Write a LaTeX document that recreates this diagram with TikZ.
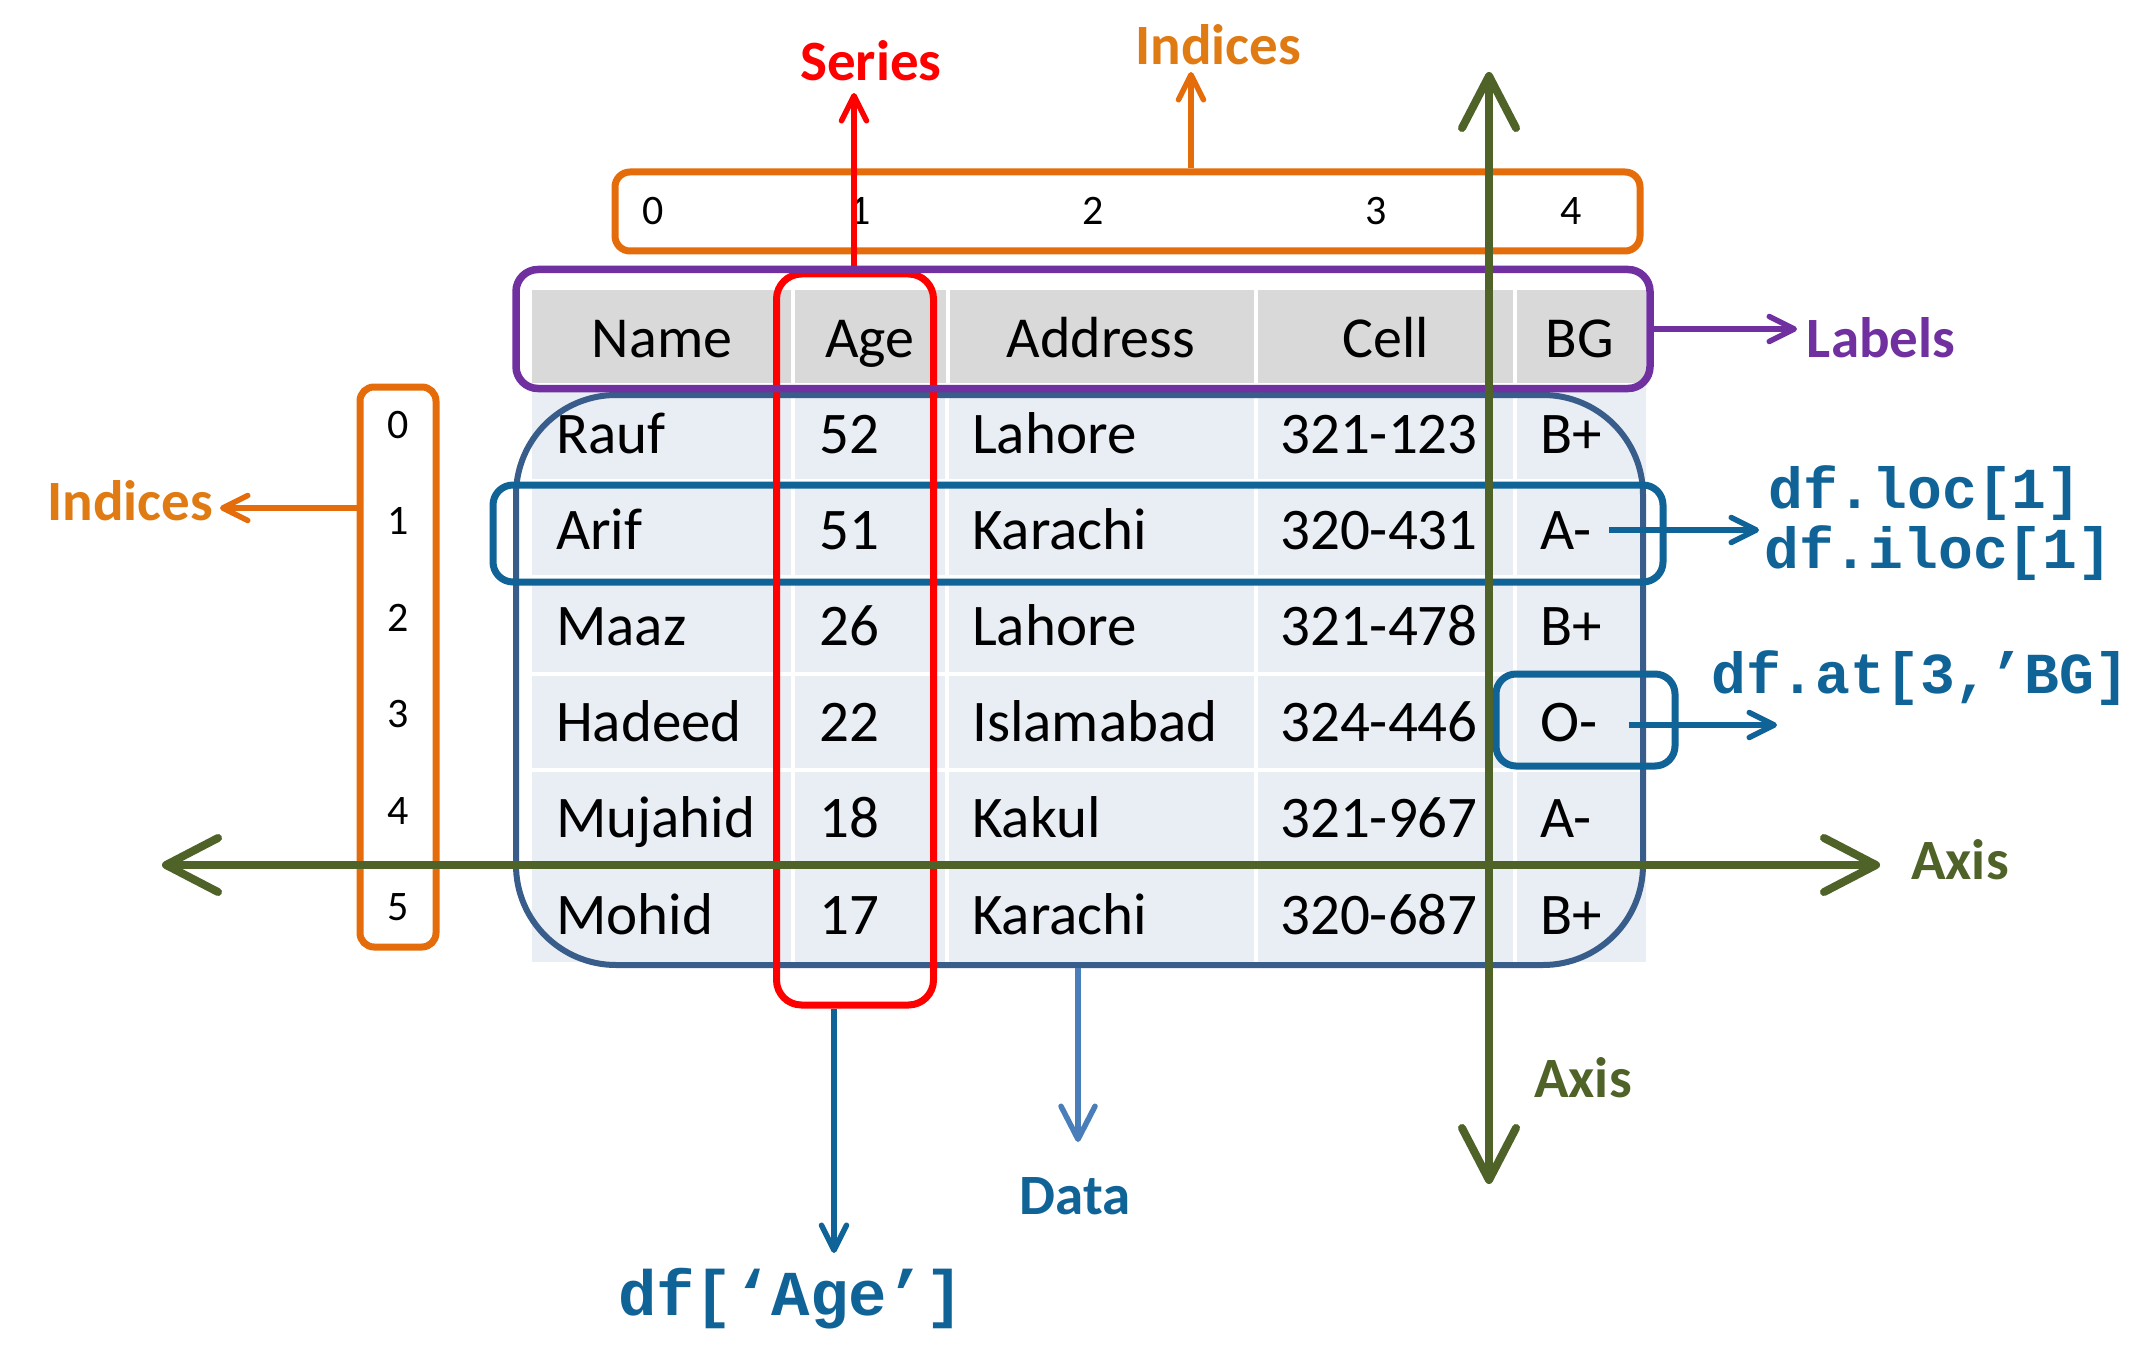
\documentclass[tikz,border=0pt]{standalone}
\usepackage{fontspec}
\setmainfont{Carlito}
\newfontfamily\codefont{Liberation Mono}
\usetikzlibrary{arrows.meta}
\definecolor{orangeb}{HTML}{E46C0A}
\definecolor{oranget}{HTML}{E07B14}
\definecolor{purp}{HTML}{7030A0}
\definecolor{axisg}{HTML}{4F6228}
\definecolor{databox}{HTML}{385D8A}
\definecolor{codeb}{HTML}{106396}
\definecolor{dataarr}{HTML}{4A7EBB}
\definecolor{hdrfill}{HTML}{D9D9D9}
\definecolor{rowfill}{HTML}{E9EDF4}
\tikzset{
  cell/.style={font=\fontsize{59}{70}\selectfont, inner sep=0pt, anchor=base west},
  hdr/.style={font=\fontsize{58}{70}\selectfont, inner sep=0pt, anchor=base},
  idx/.style={font=\fontsize{42}{50}\selectfont, inner sep=0pt},
  lbl/.style={font=\fontsize{57}{68}\selectfont\bfseries, inner sep=0pt},
  code/.style={font=\fontsize{58}{68}\selectfont\codefont\bfseries, inner sep=0pt, text=codeb},
  rbox/.style={draw, inner sep=0pt, fill=none},
  tarrow/.style={line width=5.5pt, -{Straight Barb[length=25pt,width=25pt,round]}},
  darrow/.style={line width=5.5pt, -{Straight Barb[length=33pt,width=34pt,round]}},
  axisarrow/.style={draw=axisg, line width=8pt, {Straight Barb[length=52pt,width=54pt,round]}-{Straight Barb[length=52pt,width=54pt,round]}},
}
\begin{document}
\begin{tikzpicture}[x=1pt,y=-1pt]
\useasboundingbox (0,0) rectangle (2152,1348);
\fill[white] (0,0) rectangle (2152,1348);
% table background
\fill[hdrfill] (532,290) rectangle (1646,383);
\fill[rowfill] (532,385) rectangle (1646,962);
\foreach \x in {793,948,1256,1515} \draw[white,line width=4pt] (\x,290) -- (\x,383);
\foreach \x in {793,947,1256,1515} \draw[white,line width=4pt] (\x,385) -- (\x,962);
\foreach \y in {481,577,674,770,866} \draw[white,line width=4pt] (532,\y) -- (1646,\y);
% headers
\node[hdr] (hName) at (662,357) {Name};
\node[hdr] (hAge) at (870,357) {Age};
\node[hdr] (hAddr) at (1101,357) {Address};
\node[hdr] (hCell) at (1386,357) {Cell};
\node[hdr] (hBG) at (1580,357) {BG};
% rows
\foreach \nm/\ag/\ad/\ce/\bg [count=\i from 0] in {Rauf/52/Lahore/321-123/B+,Arif/51/Karachi/320-431/A-,Maaz/26/Lahore/321-478/B+,Hadeed/22/Islamabad/324-446/O-,Mujahid/18/Kakul/321-967/A-,Mohid/17/Karachi/320-687/B+}{
  \pgfmathsetmacro{\yb}{453+96.2*\i}
  \node[cell] (n\i) at (556,\yb) {\nm};
  \node[cell] (a\i) at (819,\yb) {\ag};
  \node[cell] (d\i) at (972,\yb) {\ad};
  \node[cell] (c\i) at (1280,\yb) {\ce};
  \node[cell] (b\i) at (1540,\yb) {\bg};
}
% boxes
\node[rbox, draw=databox, line width=6pt, rounded corners=100pt, minimum width=1127pt, minimum height=570pt] (datab) at (1079.5,680) {};
\node[rbox, draw=codeb, line width=7pt, rounded corners=20pt, minimum width=1170pt, minimum height=97pt] (locb) at (1078,533.5) {};
\node[rbox, draw=codeb, line width=7pt, rounded corners=20pt, minimum width=179pt, minimum height=92pt] (atb) at (1585.5,720) {};
\node[rbox, draw=red, line width=7pt, rounded corners=25pt, minimum width=157pt, minimum height=731pt] (serb) at (855,639.5) {};
\node[rbox, draw=purp, line width=7.5pt, rounded corners=22pt, minimum width=1134pt, minimum height=119pt] (labb) at (1083,329) {};
\node[rbox, draw=orangeb, line width=7pt, rounded corners=15pt, minimum width=1025pt, minimum height=79pt] (topb) at (1127.5,211.5) {};
\node[rbox, draw=orangeb, line width=7pt, rounded corners=14pt, minimum width=76pt, minimum height=560pt] (leftb) at (398,667) {};
% index digits
\foreach \t/\x [count=\i from 0] in {0/653,1/860,2/1093,3/1376,4/1571} \node[idx] (t\i) at (\x,211) {\t};
\foreach \i in {0,...,5} {
  \pgfmathsetmacro{\yy}{425+96.4*\i}
  \node[idx] (l\i) at (398,\yy) {\i};
}
% labels
\node[lbl, text=red] (series) at (871,61) {Series};
\node[lbl, text=oranget] (tind) at (1218,45) {Indices};
\node[lbl, text=oranget] (lind) at (130,501) {Indices};
\node[lbl, text=purp] (labels) at (1881,338) {Labels};
\node[lbl, text=axisg] (axisr) at (1960,860) {Axis};
\node[lbl, text=axisg] (axisb) at (1583,1078) {Axis};
\node[lbl, text=codeb] (datal) at (1075,1196) {Data};
\node[code, font=\fontsize{64}{70}\selectfont\codefont\bfseries] (dfage) at (791,1299) {df[‘Age’]};
\node[code, anchor=west] (dfloc) at (1768,493) {df.loc[1]};
\node[code, anchor=west] (dfiloc) at (1764,553) {df.iloc[1]};
\node[code, anchor=west] (dfat) at (1711,678) {df.at[3,’BG]};
% tip coordinates
\coordinate (sertip) at (854,93);
\coordinate (tindtip) at (1191,72);
\coordinate (lindtip) at (220,508);
\coordinate (labtip) at (1797,329);
\coordinate (datatip) at (1078,1142);
\coordinate (agetip) at (834,1253);
\coordinate (loctip) at (1759,530);
\coordinate (attip) at (1777,725);
\coordinate (axL) at (162,865);
\coordinate (axR) at (1880,865);
\coordinate (axT) at (1489,72);
\coordinate (axB) at (1489,1184);
% connectors
\draw[red, tarrow] (sertip |- labb.north) -- (sertip);
\draw[orangeb, tarrow] (tindtip |- topb.north) -- (tindtip);
\draw[orangeb, tarrow] (lindtip -| leftb.west) -- (lindtip);
\draw[purp, tarrow] (labb.east) -- (labtip);
\draw[dataarr, darrow] (datatip |- datab.south) -- (datatip);
\draw[codeb, tarrow] (agetip |- serb.south) -- (agetip);
\draw[codeb, tarrow] ([xshift=17pt]loctip -| b1.east) -- (loctip);
\draw[codeb, tarrow] ([xshift=31pt]attip -| b3.east) -- (attip);
\draw[axisarrow] (axL) -- (axR);
\draw[axisarrow] (axT) -- (axB);
\end{tikzpicture}
\end{document}
